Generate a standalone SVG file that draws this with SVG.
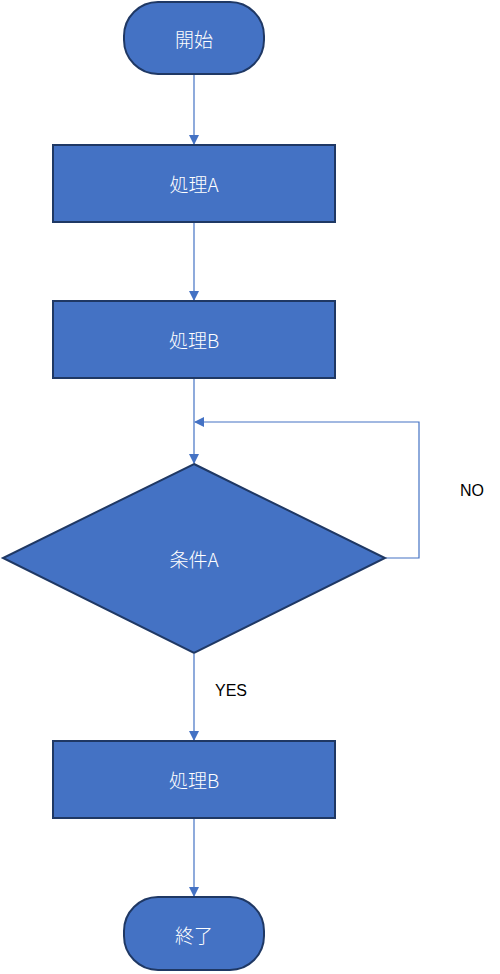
<svg xmlns="http://www.w3.org/2000/svg" width="500" height="974" viewBox="0 0 500 974">
<defs>
<marker id="ah" markerWidth="10" markerHeight="10" refX="9" refY="5" orient="auto" markerUnits="userSpaceOnUse">
<path d="M0,0 L10,5 L0,10 Z" fill="#4472C4"/>
</marker>
<style>
.shape{fill:#4472C4;stroke:#1F3864;stroke-width:2}
.lbl{fill:#ffffff;font-family:"Noto Sans CJK JP","Noto Sans",sans-serif;font-weight:300;font-size:19px;text-anchor:middle;dominant-baseline:central}
.conn{fill:none;stroke:#4472C4;stroke-width:1.2}
.elbl{fill:#000000;font-family:"Liberation Sans","Noto Sans",sans-serif;font-size:16px;text-anchor:middle;dominant-baseline:central}
</style>
</defs>
<g id="connectors">
<line class="conn" x1="194" y1="75" x2="194" y2="144" marker-end="url(#ah)"/>
<line class="conn" x1="194" y1="223" x2="194" y2="300" marker-end="url(#ah)"/>
<line class="conn" x1="194" y1="379" x2="194" y2="463" marker-end="url(#ah)"/>
<polyline class="conn" points="386,558 419,558 419,422 195,422" marker-end="url(#ah)"/>
<line class="conn" x1="194" y1="654" x2="194" y2="740" marker-end="url(#ah)"/>
<line class="conn" x1="194" y1="819" x2="194" y2="896" marker-end="url(#ah)"/>
<text class="elbl" x="472" y="490">NO</text>
<text class="elbl" x="231" y="690">YES</text>
</g>
<g id="start">
<rect class="shape" x="124" y="2" width="140" height="72" rx="34" ry="34"/>
<text class="lbl" x="194" y="38">開始</text>
</g>
<g id="procA">
<rect class="shape" x="53" y="145" width="282" height="77"/>
<text class="lbl" x="194" y="183">処理A</text>
</g>
<g id="procB">
<rect class="shape" x="53" y="301" width="282" height="77"/>
<text class="lbl" x="194" y="339">処理B</text>
</g>
<g id="condA">
<polygon class="shape" points="194,464 385,558 194,653 3,558"/>
<text class="lbl" x="194" y="558">条件A</text>
</g>
<g id="procB2">
<rect class="shape" x="53" y="741" width="282" height="77"/>
<text class="lbl" x="194" y="779">処理B</text>
</g>
<g id="end">
<rect class="shape" x="124" y="897" width="140" height="73" rx="34" ry="34"/>
<text class="lbl" x="194" y="934">終了</text>
</g>
</svg>
